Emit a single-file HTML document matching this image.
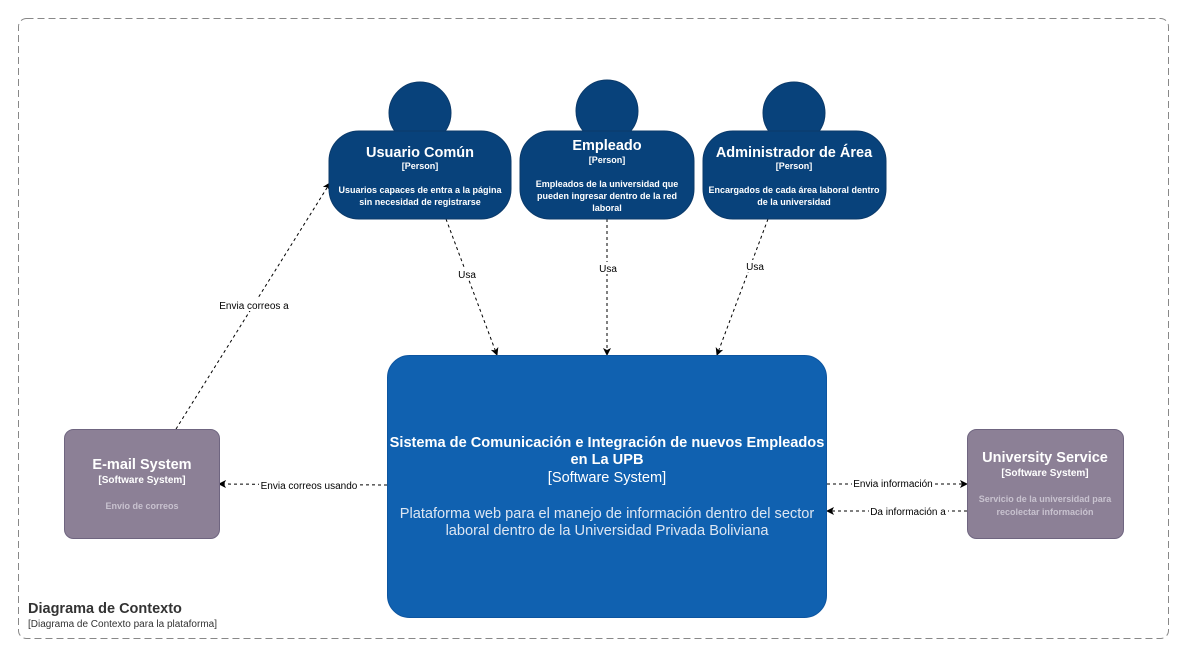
<!DOCTYPE html>
<html><head><meta charset="utf-8"><style>
body{margin:0;background:#fff;}
svg{display:block;font-family:"Liberation Sans",Arial,sans-serif;}
</style></head><body>
<svg width="1182" height="655" viewBox="0 0 1182 655">
<defs>
<marker id="a" markerWidth="8" markerHeight="8" refX="7" refY="4" orient="auto" markerUnits="userSpaceOnUse">
<path d="M0,0 L8,4 L0,8 L2,4 Z" fill="#000"/></marker>
</defs>
<rect x="18.5" y="18.5" width="1150" height="620" rx="8" fill="none" stroke="#888" stroke-dasharray="7,4"/>
<text x="28" y="613" font-size="14.5" font-weight="bold" fill="#333">Diagrama de Contexto</text>
<text x="28" y="627" font-size="10" fill="#333">[Diagrama de Contexto para la plataforma]</text>

<g stroke="#000" stroke-dasharray="3,3" fill="none" stroke-width="1">
<line x1="446" y1="219" x2="497" y2="355" marker-end="url(#a)"/>
<line x1="607" y1="219" x2="607" y2="355" marker-end="url(#a)"/>
<line x1="768" y1="219" x2="717" y2="355" marker-end="url(#a)"/>
<line x1="176" y1="429" x2="330" y2="183" marker-end="url(#a)"/>
<line x1="387" y1="485" x2="219" y2="484" marker-end="url(#a)"/>
<line x1="827" y1="484" x2="967" y2="484" marker-end="url(#a)"/>
<line x1="967" y1="511" x2="827" y2="511" marker-end="url(#a)"/>
</g>
<g font-size="10" text-anchor="middle" fill="#000">
<rect x="455" y="268" width="24" height="12" fill="#fff"/><text x="467" y="278">Usa</text>
<rect x="596" y="262" width="24" height="12" fill="#fff"/><text x="608" y="272">Usa</text>
<rect x="743" y="260" width="24" height="12" fill="#fff"/><text x="755" y="270">Usa</text>
<rect x="217" y="299" width="74" height="12" fill="#fff"/><text x="254" y="309">Envia correos a</text>
<rect x="259" y="479" width="100" height="12" fill="#fff"/><text x="309" y="489">Envia correos usando</text>
<rect x="852" y="477" width="82" height="12" fill="#fff"/><text x="893" y="487">Envia información</text>
<rect x="869" y="505" width="79" height="12" fill="#fff"/><text x="908" y="515">Da información a</text>
</g>

<g fill="#08427B" stroke="#0b3a6a" stroke-width="1">
<circle cx="420" cy="113" r="31"/>
<rect x="329" y="131" width="182" height="88" rx="30"/>
<circle cx="607" cy="111" r="31"/>
<rect x="520" y="131" width="174" height="88" rx="30"/>
<circle cx="794" cy="113" r="31"/>
<rect x="703" y="131" width="183" height="88" rx="30"/>
</g>
<g fill="#fff" text-anchor="middle">
<text x="420" y="157" font-size="14.5" font-weight="bold">Usuario Común</text>
<text x="420" y="169" font-size="9" font-weight="bold">[Person]</text>
<text x="420" y="193" font-size="9" font-weight="bold">Usuarios capaces de entra a la página</text>
<text x="420" y="205" font-size="9" font-weight="bold">sin necesidad de registrarse</text>
<text x="607" y="150" font-size="14.5" font-weight="bold">Empleado</text>
<text x="607" y="163" font-size="9" font-weight="bold">[Person]</text>
<text x="607" y="187" font-size="9" font-weight="bold">Empleados de la universidad que</text>
<text x="607" y="199" font-size="9" font-weight="bold">pueden ingresar dentro de la red</text>
<text x="607" y="211" font-size="9" font-weight="bold">laboral</text>
<text x="794" y="157" font-size="14.5" font-weight="bold">Administrador de Área</text>
<text x="794" y="169" font-size="9" font-weight="bold">[Person]</text>
<text x="794" y="193" font-size="9" font-weight="bold">Encargados de cada área laboral dentro</text>
<text x="794" y="205" font-size="9" font-weight="bold">de la universidad</text>
</g>

<rect x="387.5" y="355.5" width="439" height="262" rx="22" fill="#1061B0" stroke="#0d55a0"/>
<g fill="#fff" text-anchor="middle">
<text x="607" y="447" font-size="14.6" font-weight="bold">Sistema de Comunicación e Integración de nuevos Empleados</text>
<text x="607" y="464" font-size="14.6" font-weight="bold">en La UPB</text>
<text x="607" y="482" font-size="14.6">[Software System]</text>
<text x="607" y="518" font-size="14.6" fill="#dde6f2">Plataforma web para el manejo de información dentro del sector</text>
<text x="607" y="535" font-size="14.6" fill="#dde6f2">laboral dentro de la Universidad Privada Boliviana</text>
</g>

<rect x="64.5" y="429.5" width="155" height="109" rx="9" fill="#8C8096" stroke="#6f6580"/>
<rect x="967.5" y="429.5" width="156" height="109" rx="9" fill="#8C8096" stroke="#6f6580"/>
<g text-anchor="middle">
<text x="142" y="469" font-size="14.5" font-weight="bold" fill="#fff">E-mail System</text>
<text x="142" y="483" font-size="10" font-weight="bold" fill="#fff">[Software System]</text>
<text x="142" y="509" font-size="9" font-weight="bold" fill="#c8c2cf">Envio de correos</text>
<text x="1045" y="462" font-size="14.5" font-weight="bold" fill="#fff">University Service</text>
<text x="1045" y="476" font-size="10" font-weight="bold" fill="#fff">[Software System]</text>
<text x="1045" y="502" font-size="9" font-weight="bold" fill="#c8c2cf">Servicio de la universidad para</text>
<text x="1045" y="515" font-size="9" font-weight="bold" fill="#c8c2cf">recolectar información</text>
</g>
</svg>
</body></html>
